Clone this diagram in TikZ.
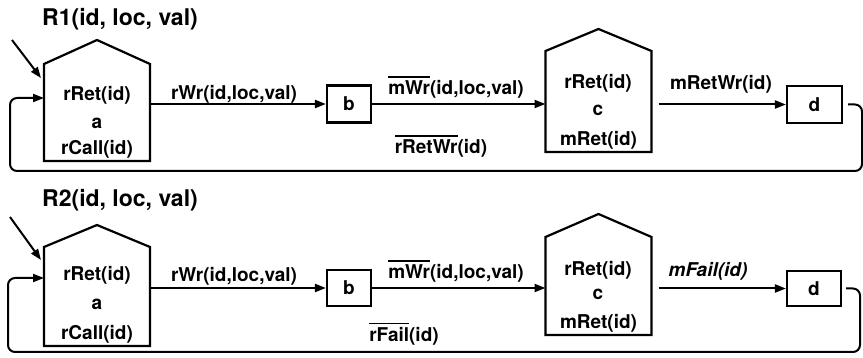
\documentclass[tikz,border=0pt]{standalone}
\usepackage{fontspec}
\setmainfont{TeX Gyre Heros}
\usetikzlibrary{arrows.meta,calc}
\newcommand\ovl[1]{\vbox{\hrule height 1.9pt\kern 3pt\hbox{#1}}}
\begin{document}
\begin{tikzpicture}[x=1pt,y=-1pt,
  font=\fontsize{19}{21}\selectfont\bfseries,
  line width=2pt,
  arr/.style={-{Triangle[length=11pt,width=8pt]}},
  housebody/.style={minimum width=104pt,inner sep=0pt,draw=none},
  houseline/.style={line width=2.2pt,line join=miter},
  sbox/.style={draw,line width=2.1pt,inner sep=0pt,minimum height=37pt},
  lbl/.style={inner sep=0pt},
  bot/.style={inner sep=0pt,anchor=south,yshift=2pt},
  title/.style={inner sep=0pt,font=\fontsize{23}{25}\selectfont\bfseries}]
\useasboundingbox (0,0) rectangle (863,358);

% ---------- Row 1 ----------
\node[title] (t1) at (120,19) {R1(id, loc, val)};
\node[housebody,minimum height=95pt] (a1) at (97,112.5) {};
\draw[houseline] (a1.south west) -- (a1.north west) -- ([yshift=24pt]a1.north) -- (a1.north east) -- (a1.south east) -- cycle;
\node[lbl] (a1t) at (97,95) {rRet(id)};
\node[lbl] (a1m) at (97,123) {a};
\node[bot] (a1b) at (a1.south) {rCall(id)};

\node[sbox,minimum width=44pt] (b1) at (349,104) {b};

\node[housebody,minimum height=99pt] (c1) at (598.5,101.5) {};
\draw[houseline] (c1.south west) -- (c1.north west) -- ([yshift=22pt]c1.north) -- (c1.north east) -- (c1.south east) -- cycle;
\node[lbl] (c1t) at (598,83) {rRet(id)};
\node[lbl] (c1m) at (598,110) {c};
\node[bot] (c1b) at (c1.south) {mRet(id)};

\node[sbox,minimum width=55pt] (d1) at (814.5,104.5) {d};

\draw[arr] (b1.west -| a1.east) -- (b1.west);
\draw[arr] (b1.east) -- (b1.east -| c1.west);
\draw[arr] ([xshift=7pt]c1.east |- d1.west) -- (d1.west);

\coordinate (r1) at (862,171);
\coordinate (l1) at (10,171);
\coordinate (e1) at (20,98);
\draw[arr,rounded corners=7pt] ([xshift=5pt]d1.east) -| (r1) -- (l1) |- (e1 -| a1.west);

\coordinate (s1) at (12,40);
\draw[arr] (s1) -- ([shift={(-3pt,-14pt)}]a1.north west);

\node[lbl] (w1) at (234,94) {rWr(id,loc,val)};
\node[lbl] (m1) at (456,87) {\ovl{mWr}(id,loc,val)};
\node[lbl] (rr1) at (441,146) {\ovl{rRetWr}(id)};
\node[lbl] (mr1) at (721,84) {mRetWr(id)};

% ---------- Row 2 ----------
\node[title] (t2) at (120,200) {R2(id, loc, val)};
\node[housebody,minimum height=97pt] (a2) at (97,296.5) {};
\draw[houseline] (a2.south west) -- (a2.north west) -- ([yshift=22pt]a2.north) -- (a2.north east) -- (a2.south east) -- cycle;
\node[lbl] (a2t) at (97,275) {rRet(id)};
\node[lbl] (a2m) at (97,304) {a};
\node[bot] (a2b) at (a2.south) {rCall(id)};

\node[sbox,minimum width=44pt,minimum height=36pt] (b2) at (349,288) {b};

\node[housebody,minimum height=96pt] (c2) at (598.5,286) {};
\draw[houseline] (c2.south west) -- (c2.north west) -- ([yshift=23pt]c2.north) -- (c2.north east) -- (c2.south east) -- cycle;
\node[lbl] (c2t) at (598,270) {rRet(id)};
\node[lbl] (c2m) at (598,294) {c};
\node[bot] (c2b) at (c2.south) {mRet(id)};

\node[sbox,minimum width=54pt,minimum height=35pt] (d2) at (814,288.5) {d};

\draw[arr] (b2.west -| a2.east) -- (b2.west);
\draw[arr] (b2.east) -- (b2.east -| c2.west);
\draw[arr] ([xshift=7pt]c2.east |- d2.west) -- (d2.west);

\coordinate (r2) at (860,352);
\coordinate (l2) at (8,352);
\coordinate (e2) at (20,278);
\draw[arr,rounded corners=7pt] ([xshift=4pt]d2.east) -| (r2) -- (l2) |- (e2 -| a2.west);

\coordinate (s2) at (10,217);
\draw[arr] (s2) -- ([shift={(-3pt,-13pt)}]a2.north west);

\node[lbl] (w2) at (234,276) {rWr(id,loc,val)};
\node[lbl] (m2) at (456,271) {\ovl{mWr}(id,loc,val)};
\node[lbl] (rf2) at (404,334) {\ovl{rFail}(id)};
\node[lbl] (mf2) at (708,271) {\itshape mFail(id)};
\end{tikzpicture}
\end{document}
